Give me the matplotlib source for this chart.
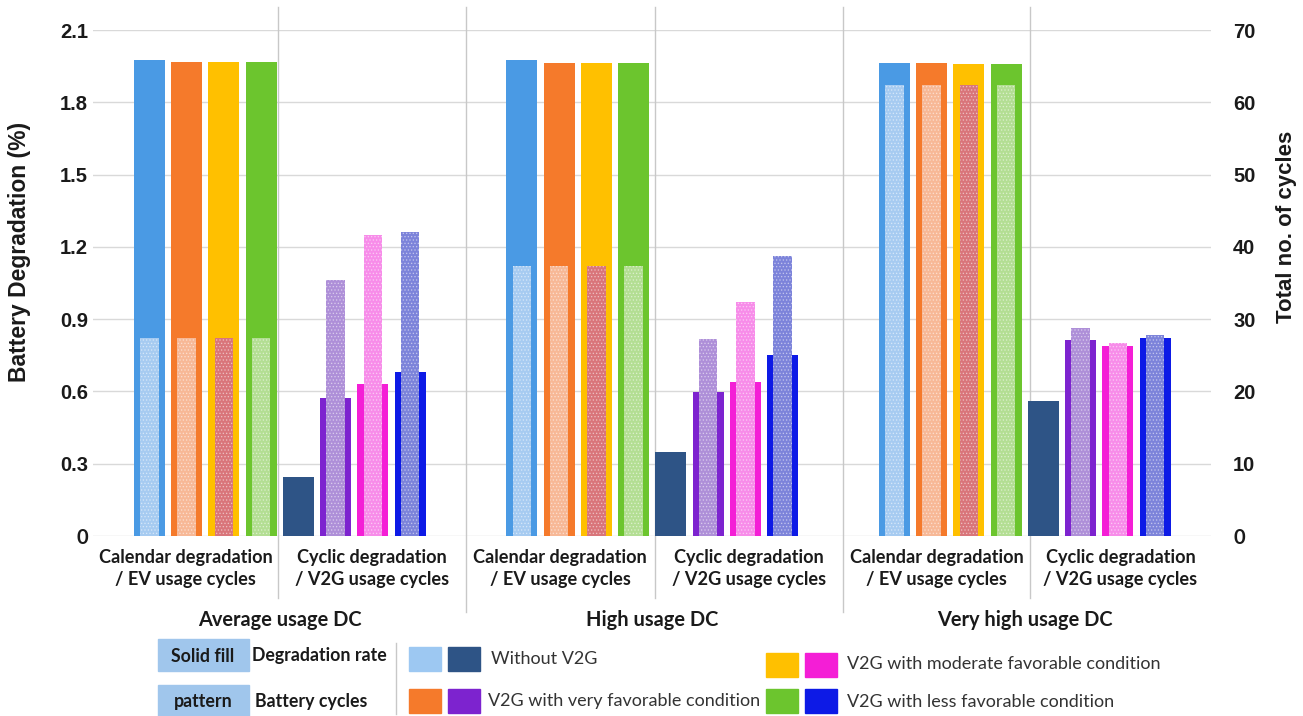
import numpy as np
import matplotlib
matplotlib.use("Agg")
import matplotlib.pyplot as plt
from matplotlib.patches import Rectangle
from matplotlib.lines import Line2D

plt.rcParams['hatch.linewidth'] = 0.6

# ---- data -------------------------------------------------------------
groups = ["Average usage DC", "High usage DC", "Very high usage DC"]
sub_labels = ["Calendar degradation\n/ EV usage cycles",
              "Cyclic degradation\n/ V2G usage cycles"]
scenarios = ["Without V2G", "V2G with very favorable condition",
             "V2G with moderate favorable condition",
             "V2G with less favorable condition"]

# calendar degradation (%) per group, per scenario
calendar_deg = [[1.975, 1.967, 1.967, 1.967],
                [1.975, 1.963, 1.963, 1.965],
                [1.965, 1.963, 1.960, 1.960]]
# EV usage cycles per group, per scenario
ev_cycles = [[27.4, 27.4, 27.4, 27.4],
             [37.3, 37.3, 37.3, 37.3],
             [62.4, 62.4, 62.4, 62.4]]
# cyclic degradation (%) per group, per scenario
cyclic_deg = [[0.245, 0.573, 0.630, 0.680],
              [0.349, 0.598, 0.640, 0.751],
              [0.560, 0.813, 0.788, 0.820]]
# V2G usage cycles per group for the three V2G scenarios
v2g_cycles = [[35.4, 41.6, 42.1],
              [27.2, 32.4, 38.7],
              [28.8, 26.7, 27.8]]

left_ticks = [0, 0.3, 0.6, 0.9, 1.2, 1.5, 1.8, 2.1]
left_tick_labels = ["0", "0.3", "0.6", "0.9", "1.2", "1.5", "1.8", "2.1"]
right_ticks = [0, 10, 20, 30, 40, 50, 60, 70]
right_tick_labels = ["0", "10", "20", "30", "40", "50", "60", "70"]

# ---- colours ----------------------------------------------------------
cal_solid = ['#4A9AE4', '#F57A2B', '#FFC000', '#6CC52E']
cal_pattern = ['#A6CBF1', '#F7B896', '#D9757A', '#B3DE93']
cyc_solid = ['#2E5486', '#7D23CF', '#F41ED6', '#0D1AE6']
cyc_pattern = ['#AE8FD8', '#F78CE9', '#7C83DA']

W, H = 1303, 716
fig = plt.figure(figsize=(W / 100, H / 100), dpi=100)
ax = fig.add_axes([93.5 / W, 1 - 536 / H, (1211 - 93.5) / W, 506 / H])
ax2 = ax.twinx()

solid_w, pat_w = 0.83, 0.5
for g in range(3):
    cal_x = 10 * g + np.arange(4)
    cyc_x = 10 * g + 4 + np.arange(4)
    ax.bar(cal_x, calendar_deg[g], width=solid_w, color=cal_solid, zorder=2)
    ax.bar(cyc_x, cyclic_deg[g], width=solid_w, color=cyc_solid, zorder=2)
    ax2.bar(cal_x, ev_cycles[g], width=pat_w, color=cal_pattern,
            hatch='.....', edgecolor=(1, 1, 1, 0.45), linewidth=0, zorder=3)
    ax2.bar(cyc_x[1:], v2g_cycles[g], width=pat_w, color=cyc_pattern,
            hatch='.....', edgecolor=(1, 1, 1, 0.45), linewidth=0, zorder=3)

ax.set_xlim(-1.5, 28.5)
ax.set_ylim(0, 2.1)
ax2.set_ylim(0, 70)
ax.set_xticks([])
ax.set_yticks(left_ticks)
ax.set_yticklabels(left_tick_labels)
ax2.set_yticks(right_ticks)
ax2.set_yticklabels(right_tick_labels)
ax.yaxis.grid(True, color='#D9D9D9', linewidth=1.0)
ax.set_axisbelow(True)
for a in (ax, ax2):
    for s in a.spines.values():
        s.set_visible(False)
ax.tick_params(axis='y', length=0, pad=4, labelsize=14.5)
ax2.tick_params(axis='y', length=0, pad=16, labelsize=14.5)
for lab in ax.get_yticklabels() + ax2.get_yticklabels():
    lab.set_fontfamily('Liberation Sans')
    lab.set_fontweight('bold')
    lab.set_color('#1A1A1A')
ax.get_yticklabels()[0].set_fontfamily('Lato')
ax2.get_yticklabels()[0].set_fontfamily('Lato')

ax.set_ylabel("Battery Degradation (%)", fontfamily='Liberation Sans',
              fontweight='bold', fontsize=16.5, color='#1A1A1A')
ax.yaxis.set_label_coords(-0.0555, 0.562)
ax2.set_ylabel("Total no. of cycles", fontfamily='Liberation Sans',
               fontweight='bold', fontsize=16, color='#1A1A1A')
ax2.yaxis.set_label_coords(1.0585, 0.61)

# separators between sub-groups and groups
xt = ax.get_xaxis_transform()
for x in (3.45, 13.57, 23.64):
    ax.add_line(Line2D([x, x], [-0.1225, 1.045], transform=xt, color='#C8C8C8',
                       lw=1, clip_on=False, zorder=1))
for x in (8.5, 18.62):
    ax.add_line(Line2D([x, x], [-0.15, 1.045], transform=xt, color='#C8C8C8',
                       lw=1, clip_on=False, zorder=1))

# category labels
sub_centers = [0.97, 5.97, 11.03, 16.1, 21.13, 26.07]
for i, xc in enumerate(sub_centers):
    ax.text(xc, -0.065, sub_labels[i % 2], transform=xt, ha='center',
            va='center', fontfamily='Lato', fontweight='bold', fontsize=13.1,
            linespacing=1.35, color='#1A1A1A')
for g, name in enumerate(groups):
    ax.text(10 * g + 3.5, -0.166, name, transform=xt, ha='center',
            va='center', fontfamily='Lato', fontweight='bold', fontsize=14.4,
            color='#1A1A1A')

# ---- legend (drawn in pixel space) -----------------------------------
lg = fig.add_axes([0, 0, 1, 1], zorder=-1)
lg.set_xlim(0, W)
lg.set_ylim(H, 0)
lg.axis('off')
key_blue = '#A0C6EC'
lg.add_patch(Rectangle((158, 639), 91, 32, color=key_blue))
lg.add_patch(Rectangle((158, 685), 91, 31, color=key_blue))
lg.text(203, 656, "Solid fill", ha='center', va='center', fontfamily='Lato',
        fontweight='bold', fontsize=12.8, color='#1A1A1A')
lg.text(203, 701, "pattern", ha='center', va='center', fontfamily='Lato',
        fontweight='bold', fontsize=12.8, color='#1A1A1A')
lg.text(252, 656, "Degradation rate", ha='left', va='center', fontfamily='Lato',
        fontweight='bold', fontsize=12.8, color='#1A1A1A')
lg.text(255, 701, "Battery cycles", ha='left', va='center', fontfamily='Lato',
        fontweight='bold', fontsize=12.8, color='#1A1A1A')
lg.plot([396, 396], [643, 714], color='#C8C8C8', lw=1)

legend_pairs = [('#9DC8F2', cyc_solid[0]), (cal_solid[1], cyc_solid[1]),
                (cal_solid[2], cyc_solid[2]), (cal_solid[3], cyc_solid[3])]
legend_pos = [(409, 647, 491, 659), (409, 689, 488, 701),
              (766, 653, 847, 664), (766, 689, 847, 702)]
for (c1, c2), (sx, sy, tx, ty), name in zip(legend_pairs, legend_pos, scenarios):
    lg.add_patch(Rectangle((sx, sy), 32, 24, color=c1))
    lg.add_patch(Rectangle((sx + 39, sy), 32, 24, color=c2))
    lg.text(tx, ty, name, ha='left', va='center', fontfamily='Lato',
            fontsize=13.0, color='#333333')

fig.savefig("out.png", dpi=100, facecolor='white')
